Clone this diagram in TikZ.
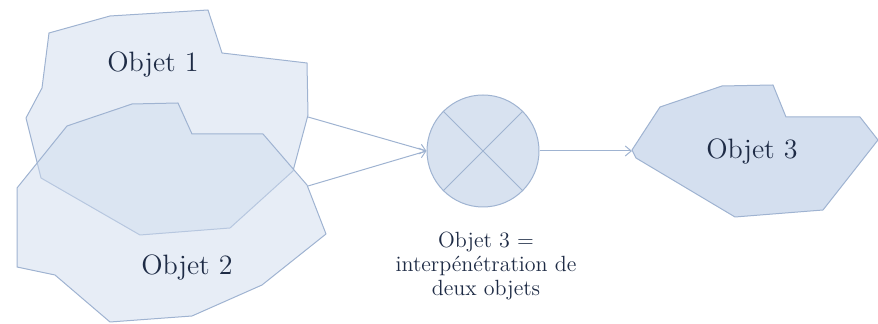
\documentclass[tikz,border=0pt]{standalone}
\usetikzlibrary{arrows.meta}
\definecolor{bord}{HTML}{9FB3D1}
\definecolor{remp}{HTML}{CFDCEE}
\definecolor{remptrois}{HTML}{D4DFEF}
\definecolor{rempop}{HTML}{D8E2F0}
\definecolor{texte}{HTML}{1E2B45}
\tikzset{
  objet/.style={draw=bord, line width=0.5pt, fill=remp, fill opacity=0.5, line join=round},
  etiquette/.style={text=texte, font=\fontsize{14}{17}\selectfont},
  fleche/.style={draw=bord, line width=0.5pt, -{Straight Barb[length=3pt,width=5pt]}}
}
\begin{document}
\begin{tikzpicture}[x=0.5pt,y=-0.5pt]
\useasboundingbox (0,0) rectangle (878,324);
% Objet 1
\draw[objet] (49,33) -- (110,16) -- (208,10) -- (222,53) -- (307,63) -- (308,115) -- (293,171)
  -- (230,228) -- (140,235) -- (41,178) -- (26,118) -- (42,88) -- cycle;
% Objet 2
\draw[objet] (17,188) -- (67,126) -- (132,104) -- (178,103) -- (192,134) -- (263,134) -- (307,185)
  -- (326,234) -- (262,285) -- (192,316) -- (110,322) -- (55,275) -- (17,267) -- cycle;
\node[etiquette] (objun) at (153,65) {Objet 1};
\node[etiquette] (objdeux) at (187,268) {Objet 2};
% interpénétration
\node[circle, draw=bord, line width=0.5pt, fill=rempop, minimum size=56pt, inner sep=0pt] (mix) at (483,151) {};
\draw[bord, line width=0.5pt] (mix.45) -- (mix.225) (mix.135) -- (mix.-45);
\node[text=texte, align=center, font=\fontsize{11}{11.8}\selectfont] (legende) at (486,266)
  {Objet 3 =\\interpénétration de\\deux objets};
% Objet 3
\draw[draw=bord, line width=0.5pt, fill=remptrois, line join=round] (632,150) -- (660,107) -- (722,86)
  -- (773,85) -- (786,117) -- (860,117) -- (878,140) -- (823,210) -- (735,217) -- (636,158) -- cycle;
\node[etiquette] (objtrois) at (752,152) {Objet 3};
% flèches
\coordinate (sortieun) at (308,117);
\coordinate (sortiedeux) at (308,186);
\coordinate (pointe) at (632,151);
\draw[fleche] (sortieun) -- (mix.west);
\draw[fleche] (sortiedeux) -- (mix.west);
\draw[fleche] (mix.east) -- (pointe);
\end{tikzpicture}
\end{document}
